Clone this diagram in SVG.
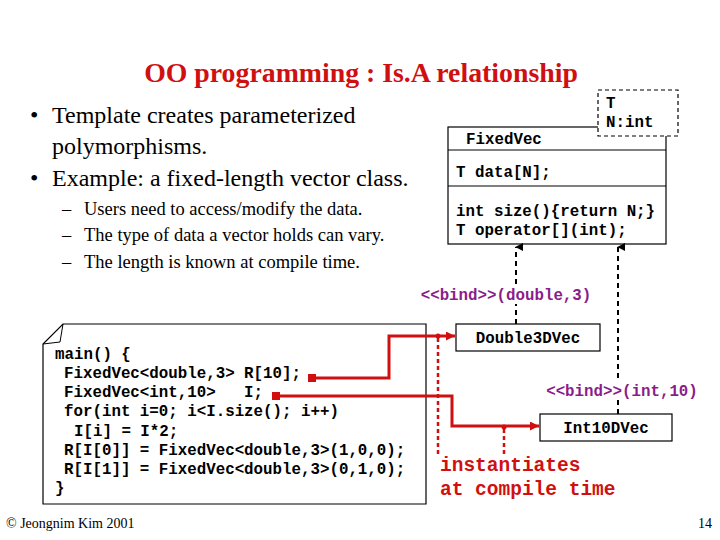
<svg xmlns="http://www.w3.org/2000/svg" width="720" height="540" viewBox="0 0 720 540">
<style>
.t{font-family:"Liberation Serif",serif;fill:#000}
.m{font-family:"Liberation Mono",monospace;font-weight:bold;font-size:15.8px;fill:#000}
.p{font-family:"Liberation Mono",monospace;font-weight:bold;font-size:15.8px;fill:#8B1C8B}
.box{fill:#fff;stroke:#000;stroke-width:1.2}
.dash{stroke:#000;stroke-width:2;stroke-dasharray:5,4;fill:none}
.red{stroke:#d01010;stroke-width:3;fill:none}
.rdot{stroke:#d01010;stroke-width:2.5;stroke-dasharray:4,3;fill:none}
</style>
<defs>
<marker id="ah" viewBox="0 0 10 10" refX="5" refY="1" markerWidth="8" markerHeight="8" orient="auto-start-reverse" markerUnits="userSpaceOnUse"><path d="M0,10 L5,0 L10,10 Z" fill="#000"/></marker>
<marker id="ra" viewBox="0 0 10 10" refX="10" refY="5" markerWidth="9" markerHeight="9" orient="auto" markerUnits="userSpaceOnUse"><path d="M0,0 L10,5 L0,10 Z" fill="#d01010"/></marker>
</defs>
<rect width="720" height="540" fill="#fff"/>
<text x="361" y="82" text-anchor="middle" class="t" style="font-size:27.8px;font-weight:bold;fill:#d01010">OO programming : Is.A relationship</text>
<g id="text">
<text class="t" font-size="24"><tspan x="30" y="123">•</tspan><tspan x="52" y="123">Template creates parameterized</tspan><tspan x="52" y="154">polymorphisms.</tspan><tspan x="30" y="186">•</tspan><tspan x="52" y="186">Example: a fixed-length vector class.</tspan></text>
<text class="t" font-size="18.5"><tspan x="62" y="215">–</tspan><tspan x="84" y="215">Users need to access/modify the data.</tspan><tspan x="62" y="241">–</tspan><tspan x="84" y="241">The type of data a vector holds can vary.</tspan><tspan x="62" y="268">–</tspan><tspan x="84" y="268">The length is known at compile time.</tspan></text>
</g>
<g id="FixedVec">
<rect class="box" x="448" y="127" width="218" height="117"/>
<line x1="448" y1="150" x2="666" y2="150" stroke="#000" stroke-width="1.2"/>
<line x1="448" y1="186" x2="666" y2="186" stroke="#000" stroke-width="1.2"/>
<rect x="598" y="90" width="80" height="46" fill="#fff" stroke="#000" stroke-width="1.2" stroke-dasharray="4,3"/>
<text class="m" x="606" y="108">T</text><text class="m" x="606" y="127">N:int</text>
<text class="m" x="466" y="144">FixedVec</text>
<text class="m" x="456" y="177">T data[N];</text>
<text class="m" x="456" y="216">int size(){return N;}</text>
<text class="m" x="456" y="235">T operator[](int);</text>
</g>
<g id="Double3DVec"><rect class="box" x="456" y="324" width="144" height="27"/><text class="m" x="528" y="343" text-anchor="middle">Double3DVec</text></g>
<g id="Int10DVec"><rect class="box" x="540" y="414" width="132" height="27"/><text class="m" x="606" y="433" text-anchor="middle">Int10DVec</text></g>
<g id="code">
<path class="box" d="M63,324 H426 V504 H43 V344 Z"/>
<path d="M63,324 L60,342 L43,344" fill="none" stroke="#000" stroke-width="1"/>
<text class="m" xml:space="preserve"><tspan x="55" y="359">main() {</tspan><tspan x="64" y="378">FixedVec&lt;double,3&gt; R[10];</tspan><tspan x="64" y="397">FixedVec&lt;int,10&gt;   I;</tspan><tspan x="64" y="416">for(int i=0; i&lt;I.size(); i++)</tspan><tspan x="74" y="436">I[i] = I*2;</tspan><tspan x="64" y="455">R[I[0]] = FixedVec&lt;double,3&gt;(1,0,0);</tspan><tspan x="64" y="474">R[I[1]] = FixedVec&lt;double,3&gt;(0,1,0);</tspan><tspan x="55" y="493">}</tspan></text>
</g>
<g id="connectors">
<line class="dash" x1="516" y1="324" x2="516" y2="304"/>
<line class="dash" x1="516" y1="284" x2="516" y2="247" marker-end="url(#ah)"/>
<line class="dash" x1="618" y1="414" x2="618" y2="400"/>
<line class="dash" x1="618" y1="378" x2="618" y2="247" marker-end="url(#ah)"/>
<text class="p" x="506" y="300" text-anchor="middle">&lt;&lt;bind&gt;&gt;(double,3)</text>
<text class="p" x="622" y="396" text-anchor="middle">&lt;&lt;bind&gt;&gt;(int,10)</text>
<path class="red" d="M312,378 H389 V336 H455" marker-end="url(#ra)"/>
<path class="red" d="M276,396 H452 V426 H539" marker-end="url(#ra)"/>
<rect x="308" y="374" width="8" height="8" fill="#d01010"/>
<rect x="272" y="392" width="8" height="8" fill="#d01010"/>
<circle cx="438" cy="336" r="2.5" fill="#d01010"/>
<circle cx="504" cy="427" r="2.5" fill="#d01010"/>
<line class="rdot" x1="438" y1="338" x2="438" y2="456"/>
<line class="rdot" x1="504" y1="429" x2="504" y2="456"/>
<text font-family="Liberation Mono,monospace" font-weight="bold" font-size="19.5" fill="#d01010"><tspan x="440" y="471">instantiates</tspan><tspan x="440" y="495">at compile time</tspan></text>
</g>
<text class="t" x="6" y="528" font-size="14">© Jeongnim Kim 2001</text>
<text class="t" x="712" y="528" font-size="14" text-anchor="end">14</text>
</svg>
